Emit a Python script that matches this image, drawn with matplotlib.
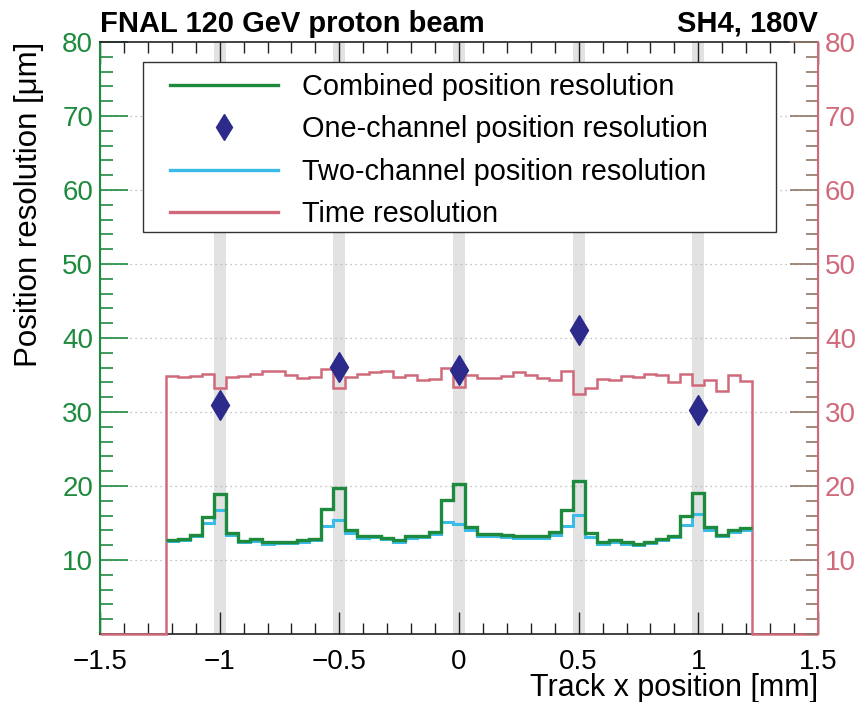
import numpy as np
import matplotlib
matplotlib.use("Agg")
import matplotlib.pyplot as plt
from matplotlib.lines import Line2D
from matplotlib.patches import Rectangle

plt.rcParams['font.family'] = ['Liberation Sans', 'DejaVu Sans']

# --- DATA ---
x_lo, x_hi = -1.225, 1.225          # histogram range [mm]
n_bins = 49

combined_res = [12.7, 12.8, 13.4, 15.8, 18.9, 13.7, 12.6, 12.8, 12.4, 12.45,
                12.45, 12.7, 12.85, 16.85, 19.75, 14.1, 13.2, 13.25, 13.0, 12.7,
                13.2, 13.3, 13.85, 18.1, 20.3, 14.5, 13.5, 13.5, 13.4, 13.3,
                13.3, 13.2, 13.8, 16.75, 20.7, 13.6, 12.5, 12.65, 12.4, 12.2,
                12.5, 12.9, 13.3, 15.9, 19.1, 14.4, 13.4, 14.0, 14.3]

two_channel_res = [12.6, 12.7, 13.2, 15.0, 16.8, 13.4, 12.4, 12.6, 12.2, 12.25,
                   12.25, 12.5, 12.65, 14.6, 15.45, 13.7, 13.0, 13.05, 12.8, 12.5,
                   13.0, 13.1, 13.5, 15.1, 14.8, 14.05, 13.2, 13.2, 13.1, 13.0,
                   13.0, 12.95, 13.4, 14.6, 16.1, 13.1, 12.2, 12.45, 12.2, 12.0,
                   12.3, 12.7, 13.1, 14.7, 16.2, 14.1, 13.2, 13.8, 14.1]

time_res = [34.8, 34.7, 34.9, 35.2, 33.3, 34.7, 34.8, 35.2, 35.6, 35.6,
            35.0, 34.6, 34.7, 35.8, 33.3, 34.7, 35.2, 35.4, 35.5, 34.7,
            35.0, 34.3, 34.5, 36.0, 33.4, 35.0, 34.6, 34.6, 34.9, 35.4,
            35.0, 34.6, 34.3, 35.5, 32.5, 33.3, 34.5, 34.3, 34.8, 34.7,
            35.2, 35.0, 34.0, 35.1, 33.7, 34.3, 32.9, 35.0, 34.2]

strip_x = [-1.0, -0.5, 0.0, 0.5, 1.0]           # metal strip centres
one_channel_res = [30.9, 36.1, 35.7, 41.1, 30.3]
strip_width = 0.05

c_green = '#1e8a3e'
c_cyan = '#3bbbe8'
c_red = '#d0697a'
c_navy = '#2c2a8a'

# --- PLOT ---
fig = plt.figure(figsize=(8.55, 7.02), dpi=100)
ax = fig.add_axes([100/855, 68/702, 718/855, 592/702])
ax2 = ax.twinx()

edges = np.linspace(x_lo, x_hi, n_bins + 1)

for xs in strip_x:
    ax.axvspan(xs - strip_width/2, xs + strip_width/2, color='#e2e2e2', lw=0, zorder=0)

for yv in range(10, 80, 10):
    ax.axhline(yv, color='#b0b0b0', lw=0.9, ls=(0, (1, 3)), zorder=0.5)

# time resolution: zero outside the sensor
t_edges = np.concatenate([[-1.5], edges, [1.5]])
t_vals = np.concatenate([[0], time_res, [0]])
ax.stairs(t_vals, t_edges, baseline=None, color=c_red, lw=1.8, zorder=2.6, clip_on=False)
ax.stairs(two_channel_res, edges, baseline=None, color=c_cyan, lw=2.2, zorder=3)
ax.stairs(combined_res, edges, baseline=None, color=c_green, lw=2.4, zorder=4)
ax.plot(strip_x, one_channel_res, ls='none', marker='d', ms=15, color=c_navy, zorder=5)

ax.set_xlim(-1.5, 1.5)
ax.set_ylim(0, 80)
ax2.set_ylim(0, 80)

ax.set_xticks([-1.5, -1, -0.5, 0, 0.5, 1, 1.5])
ax.set_xticklabels(['\u22121.5', '\u22121', '\u22120.5', '0', '0.5', '1', '1.5'])
ax.set_xticks(np.arange(-1.5, 1.51, 0.1), minor=True)
ax.set_yticks(range(10, 81, 10))
ax.set_yticks(range(0, 81, 2), minor=True)
ax2.set_yticks(range(10, 81, 10))
ax2.set_yticks(range(0, 81, 2), minor=True)

ax.tick_params(axis='x', which='both', direction='in', top=True, labelsize=20,
               pad=11, width=1.0, color='#222222')
ax.tick_params(axis='x', which='major', length=16)
ax.tick_params(axis='x', which='minor', length=8)
ax.tick_params(axis='y', which='both', direction='in', labelsize=20,
               colors=c_green, width=1.2, pad=5)
ax.tick_params(axis='y', which='major', length=20)
ax.tick_params(axis='y', which='minor', length=9)
ax2.tick_params(axis='y', which='both', direction='in', labelsize=20,
                labelcolor=c_red, color='#8f7565', width=1.2, pad=5)
ax2.tick_params(axis='y', which='major', length=20)
ax2.tick_params(axis='y', which='minor', length=9)

for sp in ['top', 'bottom']:
    ax.spines[sp].set_color('#222222')
    ax.spines[sp].set_linewidth(1.2)
ax.spines['left'].set_color(c_green)
ax.spines['left'].set_linewidth(1.5)
ax2.spines['right'].set_color(c_red)
ax2.spines['right'].set_linewidth(1.5)
ax2.spines['left'].set_visible(False)
ax2.spines['top'].set_visible(False)
ax2.spines['bottom'].set_visible(False)

ax.set_xlabel('Track x position [mm]', fontsize=22, loc='right', va='baseline')
ax.xaxis.set_label_coords(1.0, -(696-634)/592)
ax.set_ylabel('Position resolution [\u03bcm]', fontsize=22.5, loc='top', labelpad=13)

fig.text(100/855, 1 - 32/702, 'FNAL 120 GeV proton beam', fontsize=21,
         fontweight='bold', ha='left', va='baseline')
fig.text(818/855, 1 - 32/702, 'SH4, 180V', fontsize=21,
         fontweight='bold', ha='right', va='baseline')

# legend box drawn separately so the inner padding can match
ax2.add_patch(Rectangle(((143-100)/718, (634-232)/592), (776-143)/718, (232-62)/592,
                        transform=ax2.transAxes, facecolor='white', edgecolor='#333333',
                        lw=1.0, zorder=9))

handles = [
    Line2D([], [], color=c_green, lw=2.4),
    Line2D([], [], ls='none', marker='d', ms=13, color=c_navy),
    Line2D([], [], color=c_cyan, lw=2.4),
    Line2D([], [], color=c_red, lw=2.4),
]
labels = ['Combined position resolution', 'One-channel position resolution',
          'Two-channel position resolution', 'Time resolution']
leg = ax2.legend(handles, labels, loc='upper left',
                 bbox_to_anchor=((170-100)/718, (634-73)/592),
                 fontsize=20.8, frameon=False,
                 handlelength=3.74, handletextpad=0.83, borderpad=0,
                 labelspacing=0.5, borderaxespad=0)
leg.set_zorder(10)

fig.savefig('out.png', dpi=100)
